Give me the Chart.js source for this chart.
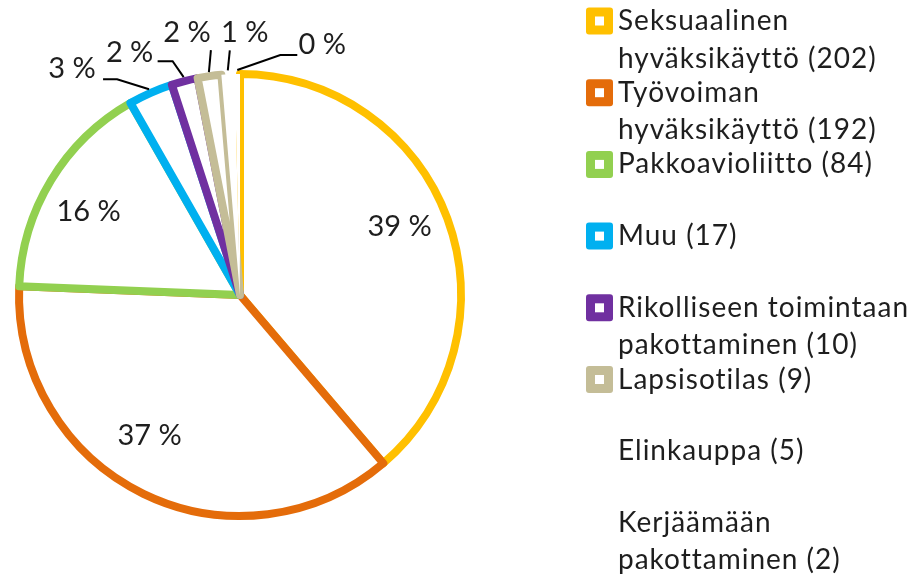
<!DOCTYPE html>
<html>
<head>
<meta charset="utf-8">
<script src="https://cdn.jsdelivr.net/npm/chart.js@4.4.1/dist/chart.umd.min.js"></script>
<style>
    html, body { margin: 0; padding: 0; background: #fff; }
    #wrap { width: 920px; height: 579px; position: relative; }
</style>
</head>
<body>
<div id="wrap"><canvas id="pieChart"></canvas></div>
<script>
// Data
const categories = [
    'Seksuaalinen hyväksikäyttö',
    'Työvoiman hyväksikäyttö',
    'Pakkoavioliitto',
    'Muu',
    'Rikolliseen toimintaan pakottaminen',
    'Lapsisotilas',
    'Elinkauppa',
    'Kerjäämään pakottaminen'
];
const caseCounts = [202, 192, 84, 17, 10, 9, 5, 2];
const sliceColors = ['#FFC000', '#E46C0A', '#92D050', '#00B0F0', '#7030A0', '#C4BD97', '#FFFFFF', '#FFFFFF'];

const totalCases = caseCounts.reduce((a, b) => a + b, 0);

const TEXT_COLOR = '#1e1e1e';
const LABEL_FONT = '29px Lato';
const LEGEND_FONT = '28px Lato';

// Nudges for the labels inside the big slices
const insideNudge = {
    0: [0, -10],
    1: [-16, -12],
    2: [-6, 5]
};

// Leader lines for the thin slices: offsets from the point on the rim
const leaderPlacement = {
    3: { path: [[-32, -10], [-46, -10]], text: [-77, -21] },
    4: { path: [[-11, -16], [-26, -16]], text: [-54, -25] },
    5: { path: [[2, -22]], text: [-22, -40] },
    6: { path: [[2, -20]], text: [17, -38] },
    7: { path: [[43, -15], [60, -15]], text: [85, -25] }
};

const pieLabelPlugin = {
    id: 'pieLabels',
    afterDatasetsDraw(chart) {
        const ctx = chart.ctx;
        const arcs = chart.getDatasetMeta(0).data;
        ctx.save();
        ctx.font = LABEL_FONT;
        ctx.fillStyle = TEXT_COLOR;
        ctx.strokeStyle = '#000';
        ctx.lineWidth = 2;
        ctx.textAlign = 'center';
        ctx.textBaseline = 'middle';
        arcs.forEach((arc, i) => {
            const { x, y, startAngle, endAngle, outerRadius } = arc.getProps(['x', 'y', 'startAngle', 'endAngle', 'outerRadius'], true);
            const mid = (startAngle + endAngle) / 2;
            const text = Math.round(caseCounts[i] / totalCases * 100) + ' %';
            const leader = leaderPlacement[i];
            if (!leader) {
                const r = outerRadius * 0.77;
                const [nx, ny] = insideNudge[i] || [0, 0];
                ctx.fillText(text, x + Math.cos(mid) * r + nx, y + Math.sin(mid) * r + ny);
                return;
            }
            const r = outerRadius + 4;
            const ax = x + Math.cos(mid) * r;
            const ay = y + Math.sin(mid) * r;
            ctx.beginPath();
            ctx.moveTo(ax, ay);
            leader.path.forEach(([dx, dy]) => ctx.lineTo(ax + dx, ay + dy));
            ctx.stroke();
            ctx.fillText(text, ax + leader.text[0], ay + leader.text[1]);
        });
        ctx.restore();
    }
};

function wrapText(ctx, text, maxWidth) {
    const words = text.split(' ');
    const lines = [];
    let line = '';
    words.forEach(w => {
        const test = line ? line + ' ' + w : w;
        if (line && ctx.measureText(test).width > maxWidth) {
            lines.push(line);
            line = w;
        } else {
            line = test;
        }
    });
    if (line) lines.push(line);
    return lines;
}

const legendPlugin = {
    id: 'sideLegend',
    afterDraw(chart) {
        const ctx = chart.ctx;
        const markerX = 586, markerSize = 27, textX = 618;
        const firstRow = 21, rowStep = 71.7, lineHeight = 37.5;
        ctx.save();
        ctx.font = LEGEND_FONT;
        ctx.letterSpacing = '1px';
        ctx.textBaseline = 'middle';
        ctx.textAlign = 'left';
        categories.forEach((name, i) => {
            const rowY = firstRow + i * rowStep;
            // marker: coloured rounded square with a white centre
            ctx.fillStyle = sliceColors[i];
            ctx.beginPath();
            ctx.roundRect(markerX, rowY - markerSize / 2, markerSize, markerSize, 3);
            ctx.fill();
            ctx.fillStyle = '#fff';
            ctx.fillRect(markerX + markerSize / 2 - 4.5, rowY - 4.5, 9, 9);

            ctx.fillStyle = TEXT_COLOR;
            const lines = wrapText(ctx, `${name} (${caseCounts[i]})`, chart.width - textX);
            lines.forEach((ln, j) => ctx.fillText(ln, textX, rowY + j * lineHeight));
        });
        ctx.restore();
    }
};

document.addEventListener('DOMContentLoaded', function() {
    const ctx = document.getElementById('pieChart').getContext('2d');
    new Chart(ctx, {
        type: 'pie',
        data: {
            labels: categories,
            datasets: [{
                data: caseCounts,
                backgroundColor: '#FFFFFF',
                borderColor: sliceColors,
                borderWidth: [8, 8, 8, 8, 8, 8, 0, 0],
                borderJoinStyle: 'round'
            }]
        },
        options: {
            responsive: true,
            maintainAspectRatio: false,
            animation: false,
            events: [],
            layout: {
                padding: { left: 15, top: 70, right: 455, bottom: 59 }
            },
            plugins: {
                legend: { display: false },
                tooltip: { enabled: false }
            }
        },
        plugins: [pieLabelPlugin, legendPlugin]
    });
});
</script>
</body>
</html>
